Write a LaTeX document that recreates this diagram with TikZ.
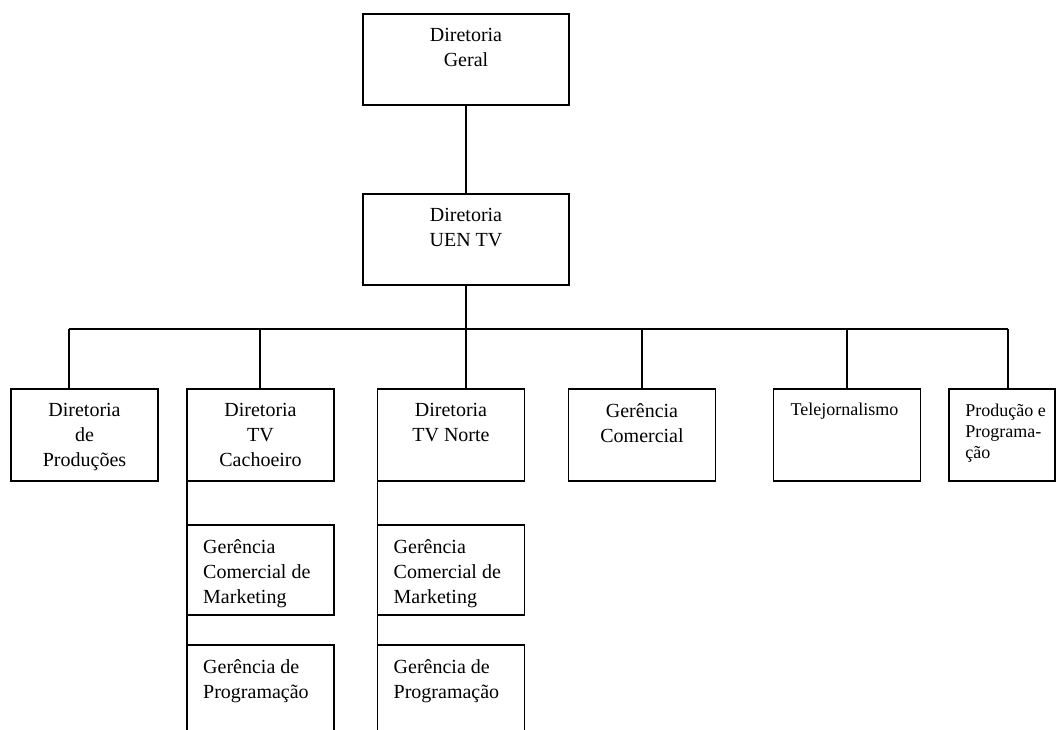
\documentclass[tikz,border=0pt]{standalone}
\usepackage{fontspec}
\setmainfont{Liberation Serif}
\begin{document}
\begin{tikzpicture}[x=1pt,y=-1pt,
  box/.style={draw=black,line width=1.6pt,inner sep=0pt,outer sep=0pt,minimum height=92pt},
  wbox/.style={box,minimum width=147pt},
  link/.style={draw=black,line width=1.6pt},
  ctxt/.style={inner sep=0pt,anchor=north,align=center,font=\fontsize{20}{25}\selectfont},
  ltxt/.style={inner sep=0pt,anchor=north west,align=left,font=\fontsize{20}{25}\selectfont},
  stxt/.style={inner sep=0pt,anchor=north west,align=left,font=\fontsize{18}{21}\selectfont}]
\useasboundingbox (0,0) rectangle (1056,729);
\clip (0,0) rectangle (1056,729);

% top levels
\node[box,minimum width=206pt,minimum height=91pt] (geral) at (466,59.5) {};
\node[ctxt] at ([yshift=-14pt]geral.north) {Diretoria\\Geral};
\node[box,minimum width=206pt,minimum height=91pt] (uen) at (466,239.5) {};
\node[ctxt] at ([yshift=-14pt]uen.north) {Diretoria\\UEN TV};

% second level
\node[wbox] (prod) at (84.5,435) {};
\node[ctxt] at ([yshift=-14pt]prod.north) {Diretoria\\de\\Produções};
\node[wbox] (cach) at (260.5,435) {};
\node[ctxt] at ([yshift=-14pt]cach.north) {Diretoria\\TV\\Cachoeiro};
\node[wbox] (norte) at (451,435) {};
\node[ctxt] at ([yshift=-14pt]norte.north) {Diretoria\\TV Norte};
\node[wbox] (com) at (642,435) {};
\node[ctxt] at ([yshift=-14pt]com.north) {Gerência\\Comercial};
\node[wbox] (tele) at (847,435) {};
\node[stxt] at ([xshift=17pt,yshift=-13.5pt]tele.north west) {Telejornalismo};
\node[box,minimum width=106pt] (pp) at (1002.2,435) {};
\node[stxt] at ([xshift=16pt,yshift=-14.5pt]pp.north west) {Produção e\\Programa-\\ção};

% third level
\node[box,minimum width=147pt,minimum height=90pt] (cmk) at (260.5,570) {};
\node[ltxt] at ([xshift=16pt,yshift=-14pt]cmk.north west) {Gerência\\Comercial de\\Marketing};
\node[box,minimum width=147pt,minimum height=110pt] (cpg) at (260.5,700) {};
\node[ltxt] at ([xshift=16pt,yshift=-14pt]cpg.north west) {Gerência de\\Programação};
\node[box,minimum width=147pt,minimum height=90pt] (nmk) at (451,570) {};
\node[ltxt] at ([xshift=16pt,yshift=-14pt]nmk.north west) {Gerência\\Comercial de\\Marketing};
\node[box,minimum width=147pt,minimum height=110pt] (npg) at (451,700) {};
\node[ltxt] at ([xshift=16pt,yshift=-14pt]npg.north west) {Gerência de\\Programação};

% connectors
\coordinate (bus) at (466,329);
\coordinate (busL) at (69,329);
\coordinate (busR) at (1008,329);
\coordinate (d2) at (260,329);
\coordinate (d4) at (642,329);
\coordinate (d5) at (847,329);
\coordinate (cachEnd) at (187,729);
\coordinate (norteEnd) at (377.5,729);
\draw[link] (geral.south) -- (uen.north);
\draw[link] (uen.south) -- (bus);
\draw[link] (busL) -- (busR);
\draw[link] (busL) -- (busL |- prod.north);
\draw[link] (d2) -- (d2 |- cach.north);
\draw[link] (bus) -- (bus |- norte.north);
\draw[link] (d4) -- (d4 |- com.north);
\draw[link] (d5) -- (d5 |- tele.north);
\draw[link] (busR) -- (busR |- pp.north);
\draw[link] (cach.south west) -- (cachEnd);
\draw[link] (norte.south west) -- (norteEnd);
\end{tikzpicture}
\end{document}
